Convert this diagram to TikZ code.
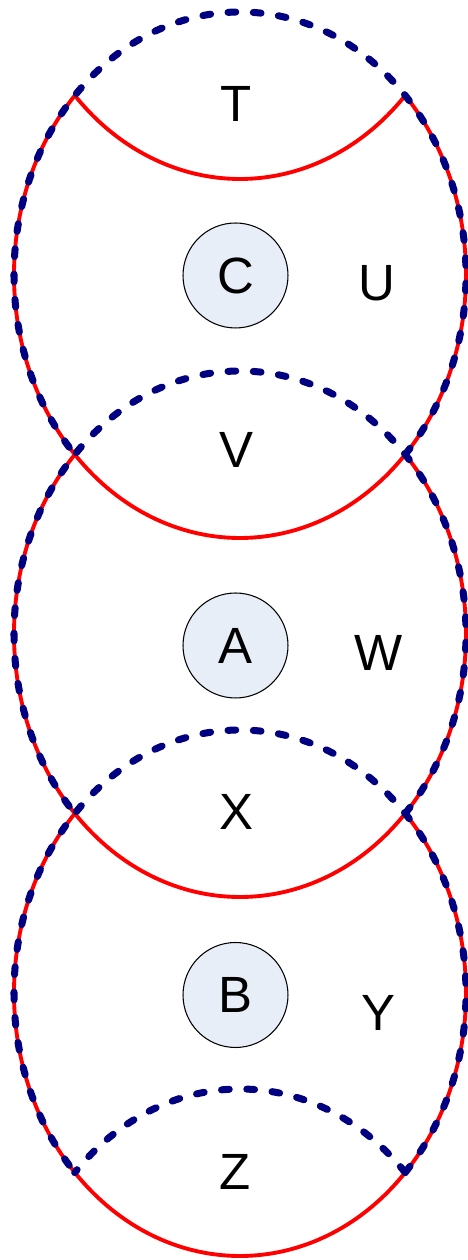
\documentclass[tikz,border=0pt]{standalone}
\usepackage{fontspec}
\setmainfont{Liberation Sans}
\definecolor{rimblue}{RGB}{0,0,128}
\definecolor{cellfill}{RGB}{232,238,247}
\tikzset{
  redrim/.style={draw=red, line width=2.2pt},
  bluerim/.style={draw=rimblue, line width=4pt, line cap=round, dash pattern=on 4.4pt off 10pt},
  cell/.style={circle, draw=black, line width=0.6pt, fill=cellfill, minimum size=2.1cm, inner sep=0pt, font=\fontsize{29}{30}\selectfont},
  zonelabel/.style={inner sep=0pt, font=\fontsize{29}{30}\selectfont},
}
\begin{document}
\begin{tikzpicture}[x=0.02cm, y=0.02cm]
\useasboundingbox (0,0) rectangle (467,1260);
\coordinate (e0) at (240,1344);
\coordinate (e1) at (240,985);
\coordinate (e2) at (240,626);
\coordinate (e3) at (240,267);
\coordinate (e4) at (240,-92);
\draw[redrim] (e0) ++(223:226 and 263) arc[start angle=223, end angle=317, x radius=226, y radius=263];
\draw[redrim] (e1) ++(137:226 and 263) arc[start angle=137, end angle=403, x radius=226, y radius=263];
\draw[redrim] (e2) ++(137:226 and 263) arc[start angle=137, end angle=403, x radius=226, y radius=263];
\draw[redrim] (e3) ++(137:226 and 263) arc[start angle=137, end angle=403, x radius=226, y radius=263];
\draw[bluerim] (e1) ++(-43:226 and 263) arc[start angle=-43, end angle=223, x radius=226, y radius=263];
\draw[bluerim] (e2) ++(-43:226 and 263) arc[start angle=-43, end angle=223, x radius=226, y radius=263];
\draw[bluerim] (e3) ++(-43:226 and 263) arc[start angle=-43, end angle=223, x radius=226, y radius=263];
\draw[bluerim] (e4) ++(43:226 and 263) arc[start angle=43, end angle=137, x radius=226, y radius=263];
\node[cell] (C) at (235.5,984.5) {C};
\node[cell] (A) at (235.5,614.5) {A};
\node[cell] (B) at (235.5,265) {B};
\node[zonelabel] (T) at (236,1156) {T};
\node[zonelabel] (U) at (377,977) {U};
\node[zonelabel] (V) at (236,810) {V};
\node[zonelabel] (W) at (379,607) {W};
\node[zonelabel] (X) at (236,448) {X};
\node[zonelabel] (Y) at (378,247) {Y};
\node[zonelabel] (Z) at (235,88) {Z};
\end{tikzpicture}
\end{document}
